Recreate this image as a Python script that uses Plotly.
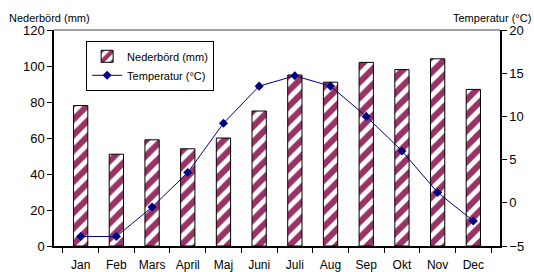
import plotly.graph_objects as go

months = ["Jan", "Feb", "Mars", "April", "Maj", "Juni", "Juli", "Aug", "Sep", "Okt", "Nov", "Dec"]
precip = [78, 51, 59, 54, 60, 75, 95, 91, 102, 98, 104, 87]
temp = [-3.9, -3.9, -0.5, 3.5, 9.2, 13.5, 14.7, 13.5, 10.0, 6.0, 1.2, -2.1]

FONT = "Liberation Sans, Arial, sans-serif"

fig = go.Figure()
fig.add_trace(go.Bar(
    x=months, y=precip, name="Nederbörd (mm)",
    width=0.4,
    marker=dict(
        color="white",
        line=dict(color="black", width=1),
        pattern=dict(shape="/", fgcolor="#993366", bgcolor="white", fgopacity=1,
                     size=11, solidity=0.55),
    ),
    yaxis="y",
))
fig.add_trace(go.Scatter(
    x=months, y=temp, name="Temperatur (°C)",
    mode="lines+markers",
    line=dict(color="#000080", width=1),
    marker=dict(symbol="diamond", size=7, color="#000080"),
    yaxis="y2",
))

fig.update_layout(
    width=534, height=272,
    margin=dict(l=54, r=34, t=30, b=26, autoexpand=False),
    paper_bgcolor="white", plot_bgcolor="white",
    font=dict(family=FONT, color="black", size=12),
    showlegend=True,
    legend=dict(
        x=0.072, y=0.95, xanchor="left", yanchor="top",
        bgcolor="white", bordercolor="black", borderwidth=1,
        font=dict(size=11, family=FONT),
        tracegroupgap=0, itemwidth=30,
    ),
    xaxis=dict(
        type="category", showline=True, linecolor="black", linewidth=1.5,
        ticks="outside", ticklen=5, tickcolor="black", tickson="boundaries",
        showgrid=False, tickfont=dict(size=12), tickangle=0, automargin=False,
        ticklabelstandoff=7,
    ),
    yaxis=dict(
        range=[0, 120], dtick=20, showline=True, linecolor="black", linewidth=1.5,
        ticks="outside", ticklen=5, tickcolor="black", showgrid=False, zeroline=False,
        tickfont=dict(size=13), automargin=False,
    ),
    yaxis2=dict(
        range=[-5, 20], dtick=5, overlaying="y", side="right",
        showline=True, linecolor="black", linewidth=1.5,
        ticks="outside", ticklen=5, tickcolor="black", showgrid=False, zeroline=False,
        tickfont=dict(size=13), automargin=False,
    ),
    shapes=[dict(type="line", xref="paper", yref="paper", x0=0, x1=1, y0=1, y1=1,
                 line=dict(color="#808080", width=1.5))],
    annotations=[
        dict(text="Nederbörd (mm)", xref="paper", yref="paper", x=-0.105, y=1.0,
             xanchor="left", yanchor="bottom", yshift=4, showarrow=False, font=dict(size=11)),
        dict(text="Temperatur (°C)", xref="paper", yref="paper", x=1.074, y=1.0,
             xanchor="right", yanchor="bottom", yshift=4, showarrow=False, font=dict(size=11)),
    ],
)

fig.write_html("out.html", config={"displayModeBar": False},
               post_script="document.body.style.margin='0';document.body.style.overflow='hidden';")
